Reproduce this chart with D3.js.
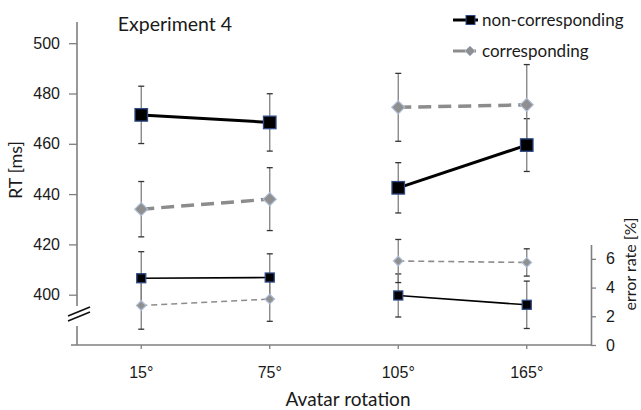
<!DOCTYPE html>
<html>
<head>
<meta charset="utf-8">
<script src="https://cdn.jsdelivr.net/npm/d3@7"></script>
<style>
  body { margin: 0; background: #fff; }
  svg { display: block; font-family: Lato, "Open Sans", sans-serif; }
</style>
</head>
<body>
<svg id="chart" width="641" height="410"></svg>
<script>
// data
var categories = ["15°", "75°", "105°", "165°"];

// reaction times [ms]
var rtNonCorr    = [471.5, 468.5, 442.5, 459.5];
var rtNonCorrErr = [11.4, 11.4, 10, 10.5];
var rtCorr       = [434, 438, 474.5, 475.5];
var rtCorrErr    = [11, 12.5, 13.5, 16];

// error rates [%]
var erNonCorr    = [4.65, 4.7, 3.45, 2.8];
var erNonCorrErr = [1.85, 1.65, 1.5, 1.65];
var erCorr       = [2.75, 3.2, 5.85, 5.75];
var erCorrErr    = [1.65, 1.55, 1.5, 0.95];

var rtTicks = [400, 420, 440, 460, 480, 500];
var erTicks = [0, 2, 4, 6];

// lines are drawn in two pieces: 15°-75° and 105°-165°
var segments = [[0, 1], [2, 3]];

var svg = d3.select("#chart");
var textColor = "#1a1a1a";
var axisColor = "#7f7f7f";

var x = d3.scaleBand().domain(categories).range([77, 591]);
function cx(d, i) { return x(categories[i]) + x.bandwidth() / 2; }

// left scale (RT) and right scale (error rate)
var yL = d3.scaleLinear().domain([380, 500]).range([345, 43.2]);
var yR = d3.scaleLinear().domain([0, 7]).range([345, 244.5]);

// left axis
var gL = svg.append("g").attr("transform", "translate(77,0)")
    .call(d3.axisLeft(yL).tickValues(rtTicks).tickSize(8).tickPadding(9));
gL.select(".domain").remove();
gL.selectAll(".tick line").attr("stroke", axisColor).attr("stroke-width", 1.3);
gL.selectAll(".tick text").attr("font-size", 16).attr("fill", textColor);

// left axis line with a break
svg.append("line").attr("x1", 77).attr("x2", 77).attr("y1", 22).attr("y2", 306)
    .attr("stroke", axisColor).attr("stroke-width", 1.6);
svg.append("line").attr("x1", 77).attr("x2", 77).attr("y1", 326).attr("y2", 345)
    .attr("stroke", axisColor).attr("stroke-width", 1.6);
[0, 5].forEach(function(o) {
  svg.append("line")
      .attr("x1", 68).attr("y1", 316 + o).attr("x2", 90).attr("y2", 307 + o)
      .attr("stroke", "#111").attr("stroke-width", 1.6);
});

// right axis
var gR = svg.append("g").attr("transform", "translate(591,0)")
    .call(d3.axisRight(yR).tickValues(erTicks).tickFormat(d3.format("d"))
      .tickSize(5).tickPadding(10).tickSizeOuter(0));
gR.select(".domain").attr("stroke", axisColor).attr("stroke-width", 1.6);
gR.selectAll(".tick line").attr("stroke", axisColor).attr("stroke-width", 1.3);
gR.selectAll(".tick text").attr("font-size", 16).attr("fill", textColor);

// bottom axis
svg.append("line").attr("x1", 71).attr("x2", 591).attr("y1", 345).attr("y2", 345)
    .attr("stroke", axisColor).attr("stroke-width", 1.6);
var gB = svg.append("g").attr("transform", "translate(0,345)")
    .call(d3.axisBottom(x).tickSize(4).tickPadding(0).tickSizeOuter(0));
gB.select(".domain").remove();
gB.selectAll(".tick line").attr("stroke", axisColor).attr("stroke-width", 1.3);
gB.selectAll(".tick text").attr("font-size", 16).attr("fill", textColor)
    .attr("y", 33).attr("dy", 0);

// error bars
function errorBars(vals, errs, scale, capW) {
  var g = svg.append("g");
  vals.forEach(function(v, i) {
    var px = cx(v, i), top = scale(v + errs[i]), bot = scale(v - errs[i]);
    g.append("line").attr("x1", px).attr("x2", px).attr("y1", top).attr("y2", bot)
        .attr("stroke", "#808080").attr("stroke-width", 1.3);
    [top, bot].forEach(function(yy) {
      g.append("line").attr("x1", px - capW).attr("x2", px + capW).attr("y1", yy).attr("y2", yy)
          .attr("stroke", "#333").attr("stroke-width", 1.3);
    });
  });
}
errorBars(rtNonCorr, rtNonCorrErr, yL, 3);
errorBars(rtCorr, rtCorrErr, yL, 3);
errorBars(erNonCorr, erNonCorrErr, yR, 3);
errorBars(erCorr, erCorrErr, yR, 3);

// lines
function drawLine(vals, scale, color, width, dash) {
  segments.forEach(function(seg) {
    var pts = seg.map(function(i) { return [cx(vals[i], i), scale(vals[i])]; });
    svg.append("path").datum(pts).attr("d", d3.line())
        .attr("fill", "none").attr("stroke", color).attr("stroke-width", width)
        .attr("stroke-dasharray", dash);
  });
}
drawLine(rtCorr, yL, "#8c8c8c", 3.5, "13,7");
drawLine(rtNonCorr, yL, "#000", 3, null);
drawLine(erCorr, yR, "#8c8c8c", 1.6, "6,4");
drawLine(erNonCorr, yR, "#000", 1.6, null);

// markers
function squares(vals, scale, s) {
  svg.append("g").selectAll("rect").data(vals).join("rect")
      .attr("x", function(d, i) { return cx(d, i) - s / 2; })
      .attr("y", function(d) { return scale(d) - s / 2; })
      .attr("width", s).attr("height", s)
      .attr("fill", "#000").attr("stroke", "#2f4a86").attr("stroke-width", 1.3);
}
function diamonds(vals, scale, r) {
  svg.append("g").selectAll("path").data(vals).join("path")
      .attr("d", function(d, i) {
        var px = cx(d, i), py = scale(d);
        return "M" + px + "," + (py - r) + "L" + (px + r) + "," + py +
               "L" + px + "," + (py + r) + "L" + (px - r) + "," + py + "Z";
      })
      .attr("fill", "#8f8f8f").attr("stroke", "#aebdd6").attr("stroke-width", 1.2);
}
diamonds(rtCorr, yL, 6.5);
squares(rtNonCorr, yL, 12.5);
diamonds(erCorr, yR, 4.8);
squares(erNonCorr, yR, 9);

// titles
svg.append("text").attr("x", 175).attr("y", 31).attr("text-anchor", "middle")
    .attr("font-size", 19.5).attr("fill", textColor).text("Experiment 4");
svg.append("text").attr("x", 348).attr("y", 406).attr("text-anchor", "middle")
    .attr("font-size", 19).attr("fill", textColor).text("Avatar rotation");
svg.append("text").attr("transform", "translate(22,170) rotate(-90)")
    .attr("text-anchor", "middle").attr("font-size", 18).attr("fill", textColor).text("RT [ms]");
svg.append("text").attr("transform", "translate(636,264) rotate(-90)")
    .attr("text-anchor", "middle").attr("font-size", 16).attr("fill", textColor).text("error rate [%]");

// legend
var leg = svg.append("g");
leg.append("line").attr("x1", 453).attr("x2", 478).attr("y1", 20).attr("y2", 20)
    .attr("stroke", "#000").attr("stroke-width", 3);
leg.append("rect").attr("x", 466).attr("y", 15.5).attr("width", 9).attr("height", 9)
    .attr("fill", "#000").attr("stroke", "#2f4a86").attr("stroke-width", 1);
leg.append("text").attr("x", 482).attr("y", 26).attr("font-size", 17).attr("fill", textColor)
    .text("non-corresponding");
leg.append("line").attr("x1", 453).attr("x2", 476).attr("y1", 51).attr("y2", 51)
    .attr("stroke", "#8c8c8c").attr("stroke-width", 3);
leg.append("path").attr("d", "M470,46L475,51L470,56L465,51Z")
    .attr("fill", "#8f8f8f").attr("stroke", "#aebdd6").attr("stroke-width", 1);
leg.append("text").attr("x", 482).attr("y", 57).attr("font-size", 17).attr("fill", textColor)
    .text("corresponding");
</script>
</body>
</html>
